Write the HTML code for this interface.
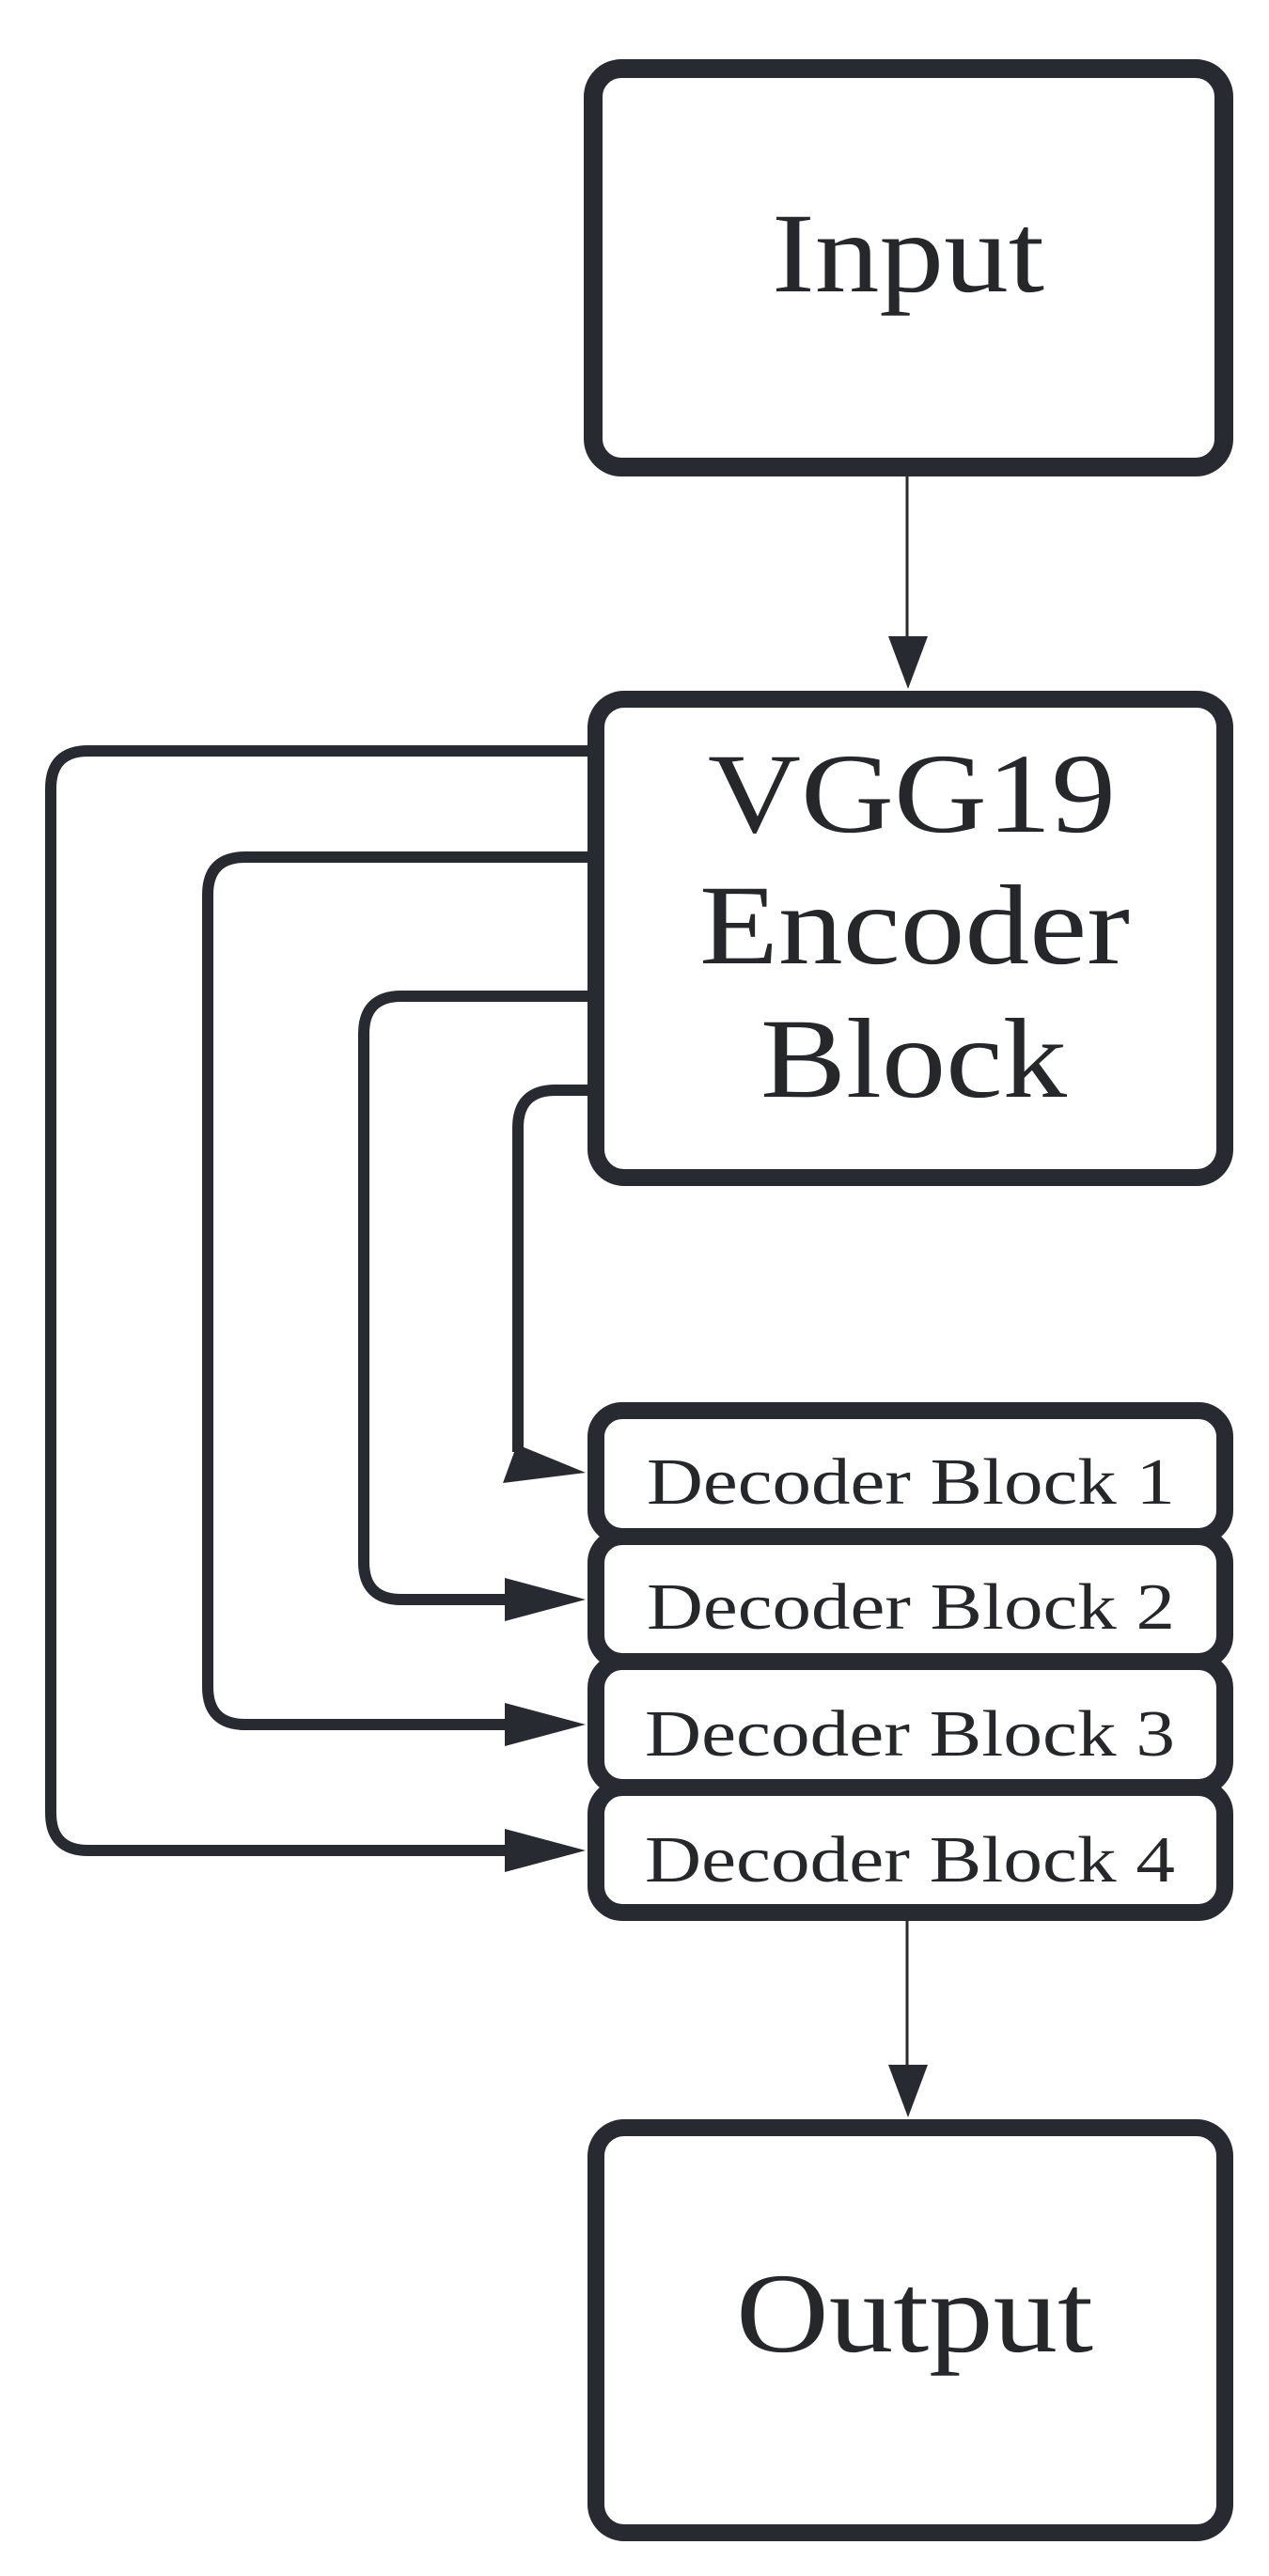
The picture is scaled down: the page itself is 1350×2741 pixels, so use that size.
<!DOCTYPE html>
<html><head><meta charset="utf-8"><style>
html,body{margin:0;padding:0;background:#fff;}
svg{display:block;}
text{font-family:"Liberation Serif",serif;fill:#25272b;}
</style></head><body>
<svg width="1350" height="2741" viewBox="0 0 1350 2741" xmlns="http://www.w3.org/2000/svg">
<g fill="none" stroke="#272a30">
  <!-- boxes -->
  <rect x="631" y="73" width="671" height="424" rx="30" stroke-width="20"/>
  <rect x="634" y="744" width="669" height="509" rx="30" stroke-width="18"/>
  <rect x="634" y="1501" width="669" height="134" rx="28" stroke-width="18"/>
  <rect x="634" y="1635" width="669" height="133" rx="28" stroke-width="18"/>
  <rect x="634" y="1768" width="669" height="134" rx="28" stroke-width="18"/>
  <rect x="634" y="1902" width="669" height="133" rx="28" stroke-width="18"/>
  <rect x="634" y="2264" width="669" height="431" rx="30" stroke-width="18"/>
  <!-- thin arrows -->
  <line x1="965" y1="507" x2="965" y2="680" stroke-width="3"/>
  <line x1="965" y1="2044" x2="965" y2="2200" stroke-width="3"/>
  <!-- skip connectors -->
  <path d="M627 799 H94 Q54 799 54 839 V1929 Q54 1969 94 1969 H545" stroke-width="12"/>
  <path d="M627 912 H261 Q221 912 221 952 V1795 Q221 1835 261 1835 H545" stroke-width="12"/>
  <path d="M627 1060 H427 Q387 1060 387 1100 V1662 Q387 1702 427 1702 H545" stroke-width="12"/>
  <path d="M627 1160 H591 Q551 1160 551 1200 V1545" stroke-width="12"/>
</g>
<g fill="#272a30">
  <polygon points="945,677 987,677 966,733"/>
  <polygon points="945,2197 987,2197 966,2253"/>
  <polygon points="537,1946 537,1992 623,1969"/>
  <polygon points="537,1812 537,1858 623,1835"/>
  <polygon points="537,1679 537,1725 623,1702"/>
  <polygon points="550,1537 535,1578 623,1567"/>
</g>
<text x="966" y="310" font-size="121" text-anchor="middle" textLength="290" lengthAdjust="spacingAndGlyphs">Input</text>
<text x="970" y="885" font-size="121" text-anchor="middle" textLength="434" lengthAdjust="spacingAndGlyphs">VGG19</text>
<text x="973" y="1025" font-size="121" text-anchor="middle" textLength="458" lengthAdjust="spacingAndGlyphs">Encoder</text>
<text x="972" y="1167" font-size="121" text-anchor="middle" textLength="326" lengthAdjust="spacingAndGlyphs">Block</text>
<text x="688" y="1600" font-size="70" textLength="562" lengthAdjust="spacingAndGlyphs">Decoder Block 1</text>
<text x="688" y="1733" font-size="70" textLength="562" lengthAdjust="spacingAndGlyphs">Decoder Block 2</text>
<text x="686" y="1868" font-size="70" textLength="564" lengthAdjust="spacingAndGlyphs">Decoder Block 3</text>
<text x="686" y="2002" font-size="70" textLength="564" lengthAdjust="spacingAndGlyphs">Decoder Block 4</text>
<text x="973" y="2502" font-size="121" text-anchor="middle" textLength="380" lengthAdjust="spacingAndGlyphs">Output</text>
</svg>
</body></html>
